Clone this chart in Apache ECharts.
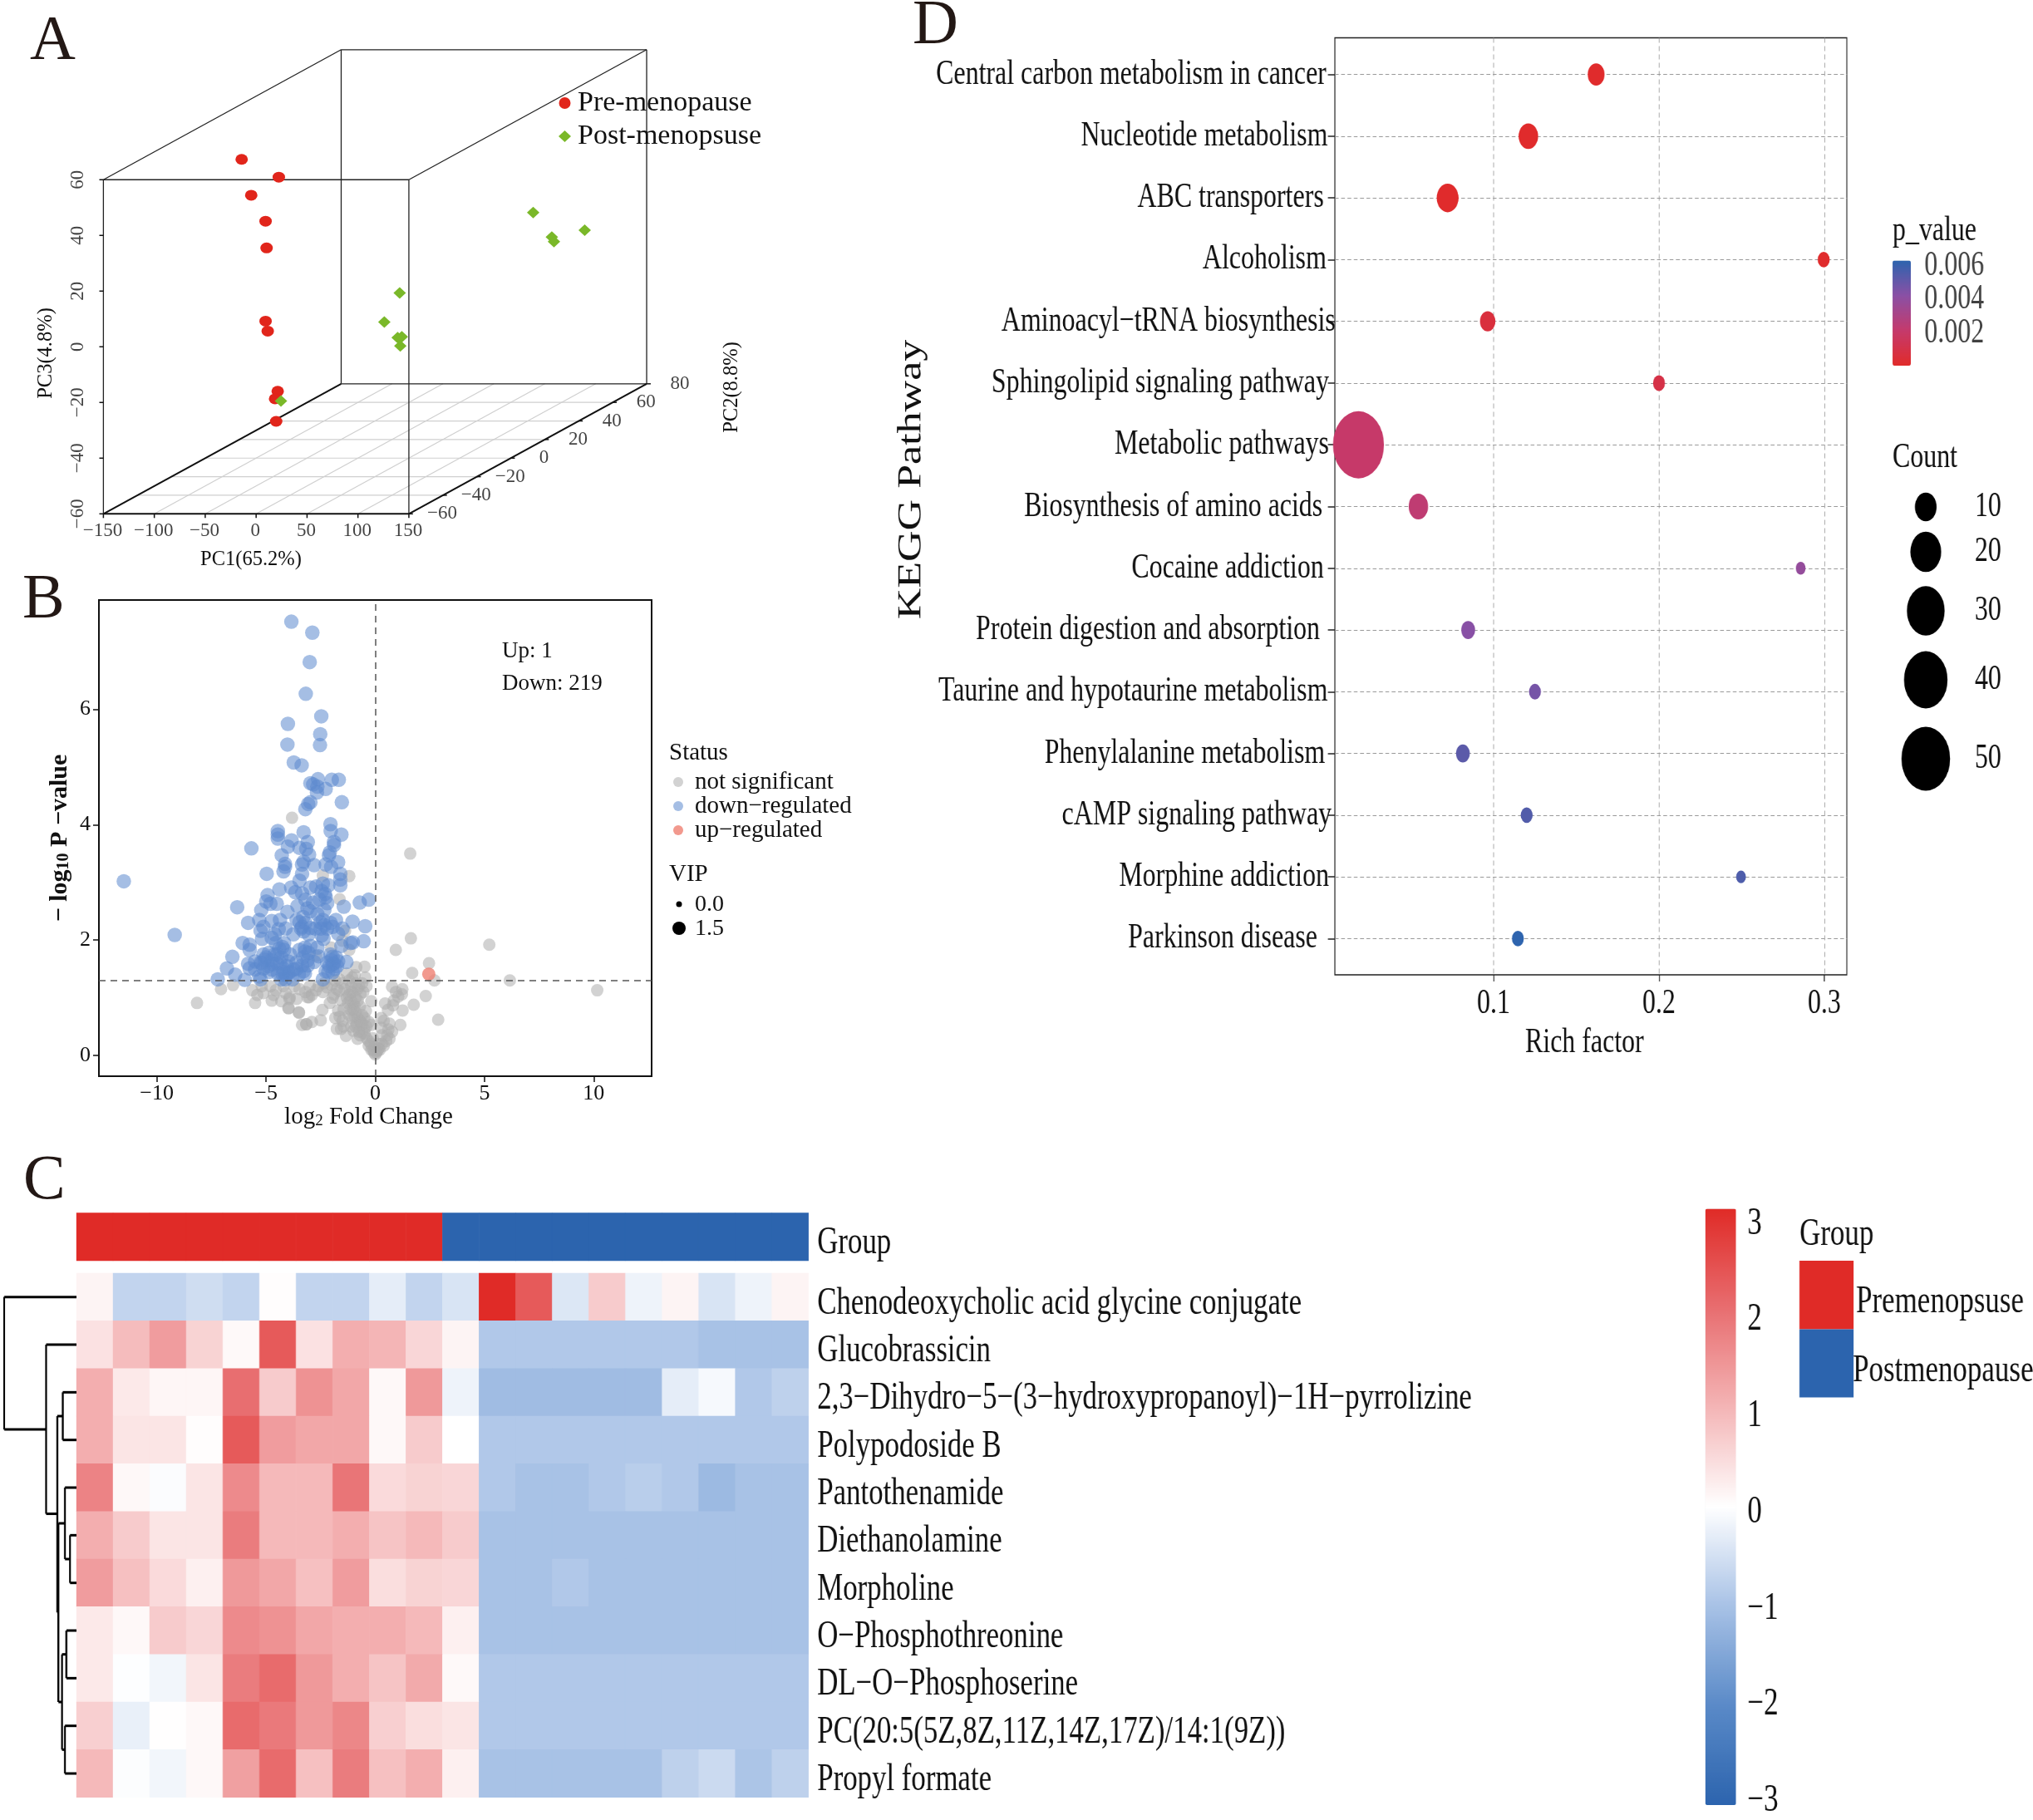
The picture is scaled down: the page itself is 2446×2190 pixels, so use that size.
<!DOCTYPE html>
<html><head><meta charset="utf-8">
<script src="https://cdn.jsdelivr.net/npm/echarts@6/dist/echarts.min.js"></script>
<style>
html,body{margin:0;padding:0;background:#fff;width:2446px;height:2190px;overflow:hidden}
#ab{position:absolute;left:0;top:0;width:2446px;height:2190px}
#cd{position:absolute;left:0;top:0;width:3218.42px;height:2190px;transform:scaleX(.76);transform-origin:0 0}
</style></head><body>
<div id="ab"></div><div id="cd"></div>
<script>
// ---------- Panel A: PCA, [PC1, PC2, PC3]
const preMenopause=[[-114.3,0,47.3],[-77.8,0,40.9],[-104.9,0,34.4],[-90.8,0,25.1],[-89.8,0,15.5],[-90.8,0,-10.8],[-88.7,0,-14.4],[-78.9,0,-36],[-81.5,0,-38.7],[-80.4,0,-46.8]];
const postMenopause=[[88.6,50,11.5],[106.9,50,2.7],[109,50,1.1],[139.2,50,5.2],[40.9,0,-0.7],[25.8,0,-11.1],[38.9,0,-16.7],[43,0,-16.4],[41.5,0,-19.7],[-75.7,0,-39.5]];
const pc1Ticks=[-150,-100,-50,0,50,100,150];
const pc2Ticks=[-60,-40,-20,0,20,40,60,80];
const pc3Ticks=[-60,-40,-20,0,20,40,60];

// ---------- Panel B: volcano, [log2FC, -log10P]
const downRegulated=[[-3.84,7.52],[-2.88,7.33],[-3,6.82],[-3.18,6.27],[-2.47,5.88],[-4,5.75],[-2.52,5.57],[-2.53,5.38],[-4.02,5.39],[-3.73,5.08],[-3.37,5.03],[-2.97,4.72],[-2.62,4.79],[-1.99,4.78],[-1.67,4.78],[-2.65,4.66],[-2.27,4.62],[-2.67,4.56],[-2.84,4.7],[-1.53,4.39],[-2.97,4.39],[-3.07,4.36],[-3.2,4.27],[-2.05,4.01],[-2.04,3.89],[-4.46,3.89],[-4.46,3.83],[-4.46,3.76],[-3.28,3.87],[-1.55,3.83],[-3.83,3.73],[-3.09,3.7],[-1.89,3.7],[-1.89,3.65],[-4,3.62],[-5.67,3.59],[-3.47,3.6],[-3.16,3.58],[-2.08,3.52],[-2.12,3.47],[-3.03,3.48],[-4.28,3.47],[-4.13,3.32],[-4.13,3.27],[-4.2,3.19],[-3.28,3.36],[-3.35,3.31],[-2.8,3.3],[-2.27,3.31],[-1.7,3.35],[-2.02,3.27],[-3.35,3.15],[-4.97,3.15],[-1.6,3.15],[-1.6,3.05],[-1.6,2.95],[-3.47,3.03],[-2.4,2.98],[-2.71,2.93],[-2.97,2.91],[-4.39,2.88],[-3.85,2.91],[-3.66,2.83],[-3.35,2.81],[-2.27,2.74],[-2.2,2.64],[-2.3,2.8],[-4.93,2.78],[-0.3,2.7],[-0.71,2.65],[-1.44,2.58],[-6.32,2.57],[-4.8,2.63],[-4.99,2.67],[-4.51,2.63],[-5.22,2.52],[-3.56,2.59],[-2.33,2.52],[-4.02,2.49],[-2.97,2.5],[-2.65,2.45],[-1.8,2.35],[-1.04,2.32],[-5.82,2.3],[-5.31,2.35],[-4.74,2.33],[-4.36,2.35],[-3.47,2.31],[-3.35,2.23],[-2.52,2.31],[-2.33,2.26],[-1.95,2.23],[-0.46,2.24],[-5.12,2.23],[-5.25,2.16],[-4.42,2.19],[-3.28,2.15],[-2.97,2.21],[-1.7,2.11],[-2.37,2.02],[-2.45,2.08],[-9.18,2.09],[-11.51,3.02],[-5.18,2.02],[-4.74,2.04],[-6.07,1.95],[-5.75,1.92],[-1.13,1.95],[-1.03,1.96],[-0.53,1.98],[-4.17,1.95],[-4.25,1.88],[-2.65,1.87],[-3.22,1.87],[-2.97,1.9],[-3.47,1.83],[-6.54,1.71],[-4.17,1.83],[-5.75,1.83],[-3.22,1.8],[-5.12,1.75],[-4.87,1.78],[-4.49,1.75],[-1.95,1.71],[-1.7,1.63],[-1.32,1.62],[-2.2,1.61],[-5.82,1.59],[-5.5,1.63],[-5.25,1.61],[-5.06,1.66],[-4.68,1.58],[-4.36,1.61],[-3.98,1.63],[-3.6,1.61],[-3.35,1.56],[-3.09,1.56],[-1.95,1.58],[-1.75,1.55],[-6.79,1.51],[-5.75,1.51],[-5.5,1.49],[-5.12,1.51],[-4.74,1.49],[-4.23,1.51],[-3.73,1.49],[-3.28,1.46],[-2.27,1.46],[-1.95,1.44],[-6.41,1.4],[-5.31,1.37],[-3.22,1.42],[-7.21,1.32],[-5.97,1.31],[-5.25,1.32],[-4.3,1.32],[-4.11,1.32],[-3.79,1.32],[-2.4,1.32],[-4.23,1.4],[-3.98,1.43],[-4.5,1.6],[-4.3,1.7],[-4.9,1.55],[-5,1.7],[-3.9,1.45],[-4.1,1.4],[-4.2,1.45],[-3.6,1.5],[-3.3,1.7],[-3.1,1.65],[-2,1.65],[-1.9,1.6],[-2.1,1.55],[-2.05,1.75],[-1.85,1.5],[-3.4,2.2],[-3.2,2.3],[-3.3,2.4],[-2.5,2.2],[-2.4,2.35],[-2.2,2.2],[-2.05,2.3],[-4.6,1.75],[-4.75,1.65],[-4.4,1.85],[-5.2,1.6],[-3.5,1.4],[-4.05,1.55],[-1.8,1.7],[-2.15,1.45],[-3.9,1.75],[-4.85,1.45],[-4.45,1.42],[-3.05,1.78],[-2.8,1.62],[-2.6,1.72],[-3.05,2.1],[-2.75,2.2],[-4.1,2.2],[-3.75,2.1],[-3.6,2.35],[-2.85,2.65],[-2.55,2.7],[-2.45,2.85],[-2.15,2.95],[-3.2,2.7],[-3.1,2.55],[-4.6,2.1],[-4.55,1.95],[-1.55,1.9],[-1.5,2.2]];
const notSignificant=[[-3.81,4.12],[1.6,3.5],[-1.19,3.11],[-2.4,3.12],[-1.63,2.71],[-1.38,2.16],[-1.51,1.99],[-1.19,1.83],[-2.02,1.87],[-2.71,1.73],[1.63,2.03],[0.94,1.83],[5.22,1.92],[2.46,1.6],[1.69,1.43],[2.71,1.3],[6.16,1.3],[10.16,1.13],[2.88,0.62],[2.31,1.03],[1.76,0.88],[-8.16,0.91],[-7.06,1.15],[-6.51,1.22],[-5.63,1.13],[-5.5,0.91],[-5.12,1.08],[-4.74,0.95],[-4.55,1.13],[-4.3,0.94],[-3.93,0.98],[-3.96,0.82],[-3.49,0.74],[-3.15,0.54],[-3.35,0.53],[-3.47,1.15],[-3.1,1.01],[-0.49,1.54],[-0.87,1.53],[-0.94,1.39],[-1.19,1.3],[-1.51,1.25],[-1.76,1.15],[-2.2,1.18],[-2.71,1.13],[-3.03,1.01],[-3.92,1.01],[-3.98,0.82],[-3.5,0.75],[-2.42,0.79],[-3.16,0.54],[-2.9,0.58],[-2.5,0.61],[-2.08,0.91],[-1.89,1.06],[-1.57,0.96],[-1.13,1.1],[-0.81,1.15],[-0.68,1.06],[-1.13,0.96],[-0.94,0.86],[-1.25,0.91],[-0.18,0.94],[-0.43,0.77],[-1.63,0.67],[-1.76,0.46],[-1.83,0.65],[-1.57,0.46],[-1.34,0.34],[-1.06,0.65],[-0.81,0.65],[-0.68,0.58],[-0.3,0.58],[-1,0.43],[-0.75,0.41],[-0.49,0.38],[-0.81,0.29],[-0.18,0.53],[-0.3,0.17],[-0.18,0.1],[0,0.02],[0.2,0.1],[0.39,0.17],[0.65,0.29],[0.77,0.41],[0.65,0.55],[0.39,0.6],[0.27,0.65],[0.27,0.48],[1.15,0.53],[0.58,0.79],[0.81,0.87],[1.25,0.78],[1.22,1.06],[0.77,1.19],[1.24,1.15],[-0.9,1],[-1,0.9],[-1,0.8],[-0.8,0.95],[-0.7,0.85],[-0.9,0.75],[-0.6,0.7],[-0.7,0.6],[-1.2,0.7],[-0.5,0.65],[-0.4,0.5],[-0.5,0.45],[-0.6,0.4],[-0.4,0.3],[-0.3,0.25],[-0.2,0.2],[-0.1,0.1],[-0.05,0.05],[0.05,0.05],[0.1,0.08],[0.15,0.2],[0.3,0.2],[0.5,0.25],[0.55,0.35],[0.6,0.45],[-0.7,0.35],[-0.9,0.5],[-1.1,0.5],[-1.5,0.6],[-1.45,0.8],[-1.3,1],[-1.4,1.15],[-1.1,1.2],[-0.9,1.25],[-0.6,1.25],[-0.4,1.2],[-2.4,1.1],[-2.6,1.2],[-3,1.2],[-3.2,1.1],[-3.7,1.2],[-4.2,1.2],[-4.8,1.2],[-5.2,1.2],[-2.9,1.05],[-2.35,1.25],[-2,1.22],[-1.95,1],[-1.65,1.12],[-1.2,1.05],[-1.05,1.1],[-0.75,1.2],[-0.55,1.1],[-0.95,0.68],[-1.15,0.8],[-0.85,0.55],[-0.6,0.55],[-0.45,1.35],[-1.65,1.32],[-1.85,1.3],[-1.3,1.42],[-1.05,1.35],[-5.4,1.05],[-4.1,1.08],[-3.6,0.98],[-4.65,1.05],[-1.7,0.78],[-1.45,0.5],[0.85,0.95],[1.05,1.02],[0.95,1.1],[0.45,0.9],[0.3,0.35],[0.15,0.12],[-0.02,0.15],[-0.12,0.3]];
const upRegulated=[[2.45,1.41]];
const volcanoX=[-10,-5,0,5,10];
const volcanoY=[0,2,4,6];

// ---------- Panel C: heatmap, rows top to bottom, 20 samples
const metabolites=["Chenodeoxycholic acid glycine conjugate","Glucobrassicin","2,3−Dihydro−5−(3−hydroxypropanoyl)−1H−pyrrolizine","Polypodoside B","Pantothenamide","Diethanolamine","Morpholine","O−Phosphothreonine","DL−O−Phosphoserine","PC(20:5(5Z,8Z,11Z,14Z,17Z)/14:1(9Z))","Propyl formate"];
const r1=[.15,-.7,-.7,-.55,-.7,.03,-.7,-.7,-.3,-.7,-.45,3,2.3,-.4,.7,-.2,.15,-.45,-.2,.15];
const r2=[.4,.9,1.35,.6,.08,2.3,.4,1.1,1,.55,.15,-.9,-.9,-.9,-.9,-.9,-.9,-1,-1,-1];
const r3=[1.1,.3,.12,.12,2,.7,1.5,1.2,.1,1.4,-.2,-1.1,-1.1,-1.1,-1.1,-1.1,-.3,-.1,-.9,-.75];
const r4=[1.1,.35,.35,.03,2.3,1.35,1.2,1.2,.1,.7,0,-.9,-.9,-.9,-.9,-.9,-.9,-.9,-.9,-.9];
const r5=[1.7,.1,-.05,.35,1.6,.95,.95,1.9,.5,.6,.55,-.9,-1,-1,-.9,-.8,-.9,-1.15,-1,-1];
const r6=[1.1,.7,.35,.35,1.8,.95,.95,1.1,.8,.95,.7,-1,-1,-1,-1,-1,-1,-1,-1,-1];
const r7=[1.35,.85,.5,.2,1.4,1.2,.85,1.35,.45,.6,.55,-1,-1,-.9,-1,-1,-1,-1,-1,-1];
const r8=[.3,.1,.7,.55,1.6,1.5,1.2,1.1,1.1,.95,.2,-1,-1,-1,-1,-1,-1,-1,-1,-1];
const r9=[.3,-.02,-.15,.35,1.8,2.05,1.4,1.1,.8,1.15,.08,-.9,-.9,-.9,-.9,-.9,-.9,-.9,-.9,-.9];
const r10=[.65,-.25,.01,.1,2.05,1.85,1.4,1.65,.65,.45,.35,-.9,-.9,-.9,-.9,-.9,-.9,-.9,-.9,-.9];
const r11=[.95,-.03,-.15,.1,1.3,2.05,.85,1.8,.85,1.1,.2,-1,-1,-1,-1,-1,-.75,-.6,-.95,-.75];
const heatRows=[r1,r2,r3,r4,r5,r6,r7,r8,r9,r10,r11];
const groupOfSample=[0,0,0,0,0,0,0,0,0,0,1,1,1,1,1,1,1,1,1,1];
const groupNames=["Premenopsuse","Postmenopause"];
const scaleTicks=[-3,-2,-1,0,1,2,3];
// dendrogram segments: [height1,row1,height2,row2]
const dendrogram=[[1,.5,1,3.28],[1,.5,0,.5],[1,3.28,.42,3.28],[.42,1.5,.42,5.05],[.42,1.5,0,1.5],[.42,5.05,.265,5.05],[.265,3,.265,7.12],[.265,3,.19,3],[.265,7.12,.25,7.12],[.19,2.5,.19,3.5],[.19,2.5,0,2.5],[.19,3.5,0,3.5],[.25,5.25,.25,9],[.25,5.25,.16,5.25],[.25,9,.2,9],[.16,4.5,.16,6],[.16,4.5,0,4.5],[.16,6,.09,6],[.09,5.5,.09,6.5],[.09,5.5,0,5.5],[.09,6.5,0,6.5],[.2,8,.2,10],[.2,8,.14,8],[.2,10,.16,10],[.14,7.5,.14,8.5],[.14,7.5,0,7.5],[.14,8.5,0,8.5],[.16,9.5,.16,10.5],[.16,9.5,0,9.5],[.16,10.5,0,10.5]];

// ---------- Panel D: KEGG bubbles
const pathways=["Central carbon metabolism in cancer","Nucleotide metabolism","ABC transporters","Alcoholism","Aminoacyl−tRNA biosynthesis","Sphingolipid signaling pathway","Metabolic pathways","Biosynthesis of amino acids","Cocaine addiction","Protein digestion and absorption","Taurine and hypotaurine metabolism","Phenylalanine metabolism","cAMP signaling pathway","Morphine addiction","Parkinson disease"];
const richFactor=[.162,.121,.0722,.2996,.0964,.2,.0183,.0545,.2857,.0846,.125,.0814,.12,.2496,.1147];
const pValue=[.00005,.00005,.00005,.0001,.0006,.0009,.002,.0023,.0038,.0042,.0046,.0052,.0054,.0055,.0062];
const pathwayCount=[6,8,10,3,5,3,55,8,2,4,3,4,3,2,3];
const richTicks=[.1,.2,.3];
const pTicks=[.002,.004,.006];
const countLegend=[10,20,30,40,50];
// how far each pathway label stops short of the panel edge (reference is uneven)
const labelInset=[6.5,5.5,8.5,6.5,-.5,4.5,4.5,9.5,8.5,11.5,5.5,7.5,2.5,4.5,13.5];

// ---------- helpers
const SERIF='"Liberation Serif"';
const minus=v=>String(v).replace('-','−');
const proj=(a,b,c)=>[a+(b+60)*1.668,c+(b+60)*.3336];
const seg=(p,q)=>[p[0],p[1],q[0],q[1]];
function segSeries(name,data,color,width,xi,yi){return {name,type:'custom',coordinateSystem:'cartesian2d',xAxisIndex:xi,yAxisIndex:yi,silent:true,clip:false,data,encode:{x:[0,2],y:[1,3]},
 renderItem(p,api){const a=api.coord([api.value(0),api.value(1)]),b=api.coord([api.value(2),api.value(3)]);return {type:'line',shape:{x1:a[0],y1:a[1],x2:b[0],y2:b[1]},style:{stroke:color,lineWidth:width,fill:null}}}}}
function labelSeries(name,data,offset,rotate){return {name,type:'scatter',xAxisIndex:0,yAxisIndex:0,symbolSize:1,itemStyle:{color:'rgba(0,0,0,0)'},silent:true,clip:false,data,
 label:{show:true,position:'inside',offset,rotate,fontFamily:SERIF,fontSize:23,color:'#111',formatter:p=>p.value[2]}}}

// ---------- AB chart (no horizontal squeeze)
const floor=[];
pc2Ticks.slice(1,-1).forEach(v=>floor.push(seg(proj(-150,v,-60),proj(150,v,-60))));
pc1Ticks.slice(1).forEach(v=>floor.push(seg(proj(v,-60,-60),proj(v,80,-60))));
const C=(a,b,c)=>proj(a,b,c);
const boxThin=[seg(C(-150,-60,60),C(150,-60,60)),seg(C(-150,-60,-60),C(-150,-60,60)),seg(C(150,-60,-60),C(150,-60,60)),
 seg(C(-150,80,-60),C(-150,80,60)),seg(C(-150,80,60),C(150,80,60)),seg(C(150,80,-60),C(150,80,60)),seg(C(-150,80,-60),C(150,80,-60)),
 seg(C(-150,-60,60),C(-150,80,60)),seg(C(150,-60,60),C(150,80,60))];
const boxThick=[seg(C(-150,-60,-60),C(150,-60,-60)),seg(C(-150,-60,-60),C(-150,80,-60)),seg(C(150,-60,-60),C(150,80,-60))];
const tickMarks=[];
pc1Ticks.forEach(v=>tickMarks.push(seg(C(v,-60,-60),C(v,-60,-61.5))));
pc3Ticks.forEach(v=>tickMarks.push(seg(C(-150,-60,v),C(-154,-60,v))));
pc2Ticks.forEach(v=>tickMarks.push(seg(C(150,v,-60),C(154,v,-60))));

const txt=(text,x,y,size,extra)=>Object.assign({type:'text',x,y,silent:true,style:Object.assign({text,font:size+'px '+SERIF,fill:'#111',verticalAlign:'middle'},extra||{})});
const letter=(t,x,y)=>({type:'text',x,y,silent:true,style:{text:t,font:'76px '+SERIF,fill:'#231815',verticalAlign:'bottom'}});

const ab=echarts.init(document.getElementById('ab'));
ab.setOption({animation:false,textStyle:{fontFamily:SERIF},
 legend:[
  {data:[{name:'Pre-menopause',icon:'circle',itemStyle:{color:'#e1251b'}},{name:'Post-menopsuse',icon:'diamond',itemStyle:{color:'#7ab829'}}],orient:'vertical',left:672,top:107,itemWidth:15,itemHeight:14,itemGap:6,selectedMode:false,padding:0,textStyle:{fontFamily:SERIF,fontSize:34,color:'#111',padding:[0,0,0,3]}},
  {data:['not significant','down−regulated','up−regulated'],orient:'vertical',left:810,top:926.5,itemWidth:12,itemHeight:12,itemGap:0,selectedMode:false,padding:0,textStyle:{fontFamily:SERIF,fontSize:29,color:'#111',padding:[0,0,0,9]}}
 ],
 grid:[
  {left:124.4,top:59.8,width:653.6,height:558.5},
  {left:119,top:722,width:665,height:573,show:true,borderColor:'#111',borderWidth:2,z:3}
 ],
 xAxis:[
  {type:'value',gridIndex:0,show:false,min:-150,max:383.5},
  {type:'value',gridIndex:1,min:-12.65,max:12.65,splitLine:{show:false},axisLine:{show:true,onZero:false,lineStyle:{color:'#111',width:2}},axisTick:{show:true,length:7,lineStyle:{color:'#111',width:1.5},customValues:volcanoX},axisLabel:{customValues:volcanoX,fontFamily:SERIF,fontSize:26,color:'#111',margin:8,formatter:minus},
   name:'{a|log}{s|2}{a| Fold Change}',nameLocation:'middle',nameGap:34,nameTextStyle:{padding:[0,16,0,0],rich:{a:{fontFamily:SERIF,fontSize:29,color:'#111'},s:{fontFamily:SERIF,fontSize:19,color:'#111',verticalAlign:'bottom'}}}}
 ],
 yAxis:[
  {type:'value',gridIndex:0,show:false,min:-60,max:106.7},
  {type:'value',gridIndex:1,min:-.36,max:7.896,splitLine:{show:false},axisLine:{show:true,onZero:false,lineStyle:{color:'#111',width:2}},axisTick:{show:true,length:7,lineStyle:{color:'#111',width:1.5},customValues:volcanoY},axisLabel:{customValues:volcanoY,fontFamily:SERIF,fontSize:26,color:'#111',margin:10},
   name:'{a|− log}{s|10}{a| P −value}',nameLocation:'middle',nameRotate:90,nameGap:32,nameTextStyle:{rich:{a:{fontFamily:SERIF,fontSize:30,color:'#111',fontWeight:'bold'},s:{fontFamily:SERIF,fontSize:20,color:'#111',fontWeight:'bold',verticalAlign:'bottom'}}}}
 ],
 graphic:{elements:[
  letter('A',36,89),letter('B',27,761),letter('C',28,1460),letter('D',1098,70),
  txt('PC1(65.2%)',241,674,24.5),
  {type:'text',x:56,y:425,rotation:Math.PI/2,silent:true,style:{text:'PC3(4.8%)',font:'24.5px '+SERIF,fill:'#111',align:'center',verticalAlign:'middle'}},
  {type:'text',x:881,y:466,rotation:Math.PI/2,silent:true,style:{text:'PC2(8.8%)',font:'24.5px '+SERIF,fill:'#111',align:'center',verticalAlign:'middle'}},
  txt('Up: 1',604,783.5,27),txt('Down: 219',604,822.5,27),
  txt('Status',805,906.5,29),txt('VIP',805,1052.5,29),
  {type:'circle',shape:{cx:817,cy:1088,r:3.5},style:{fill:'#000'},silent:true},
  {type:'circle',shape:{cx:817,cy:1117,r:8},style:{fill:'#000'},silent:true},
  txt('0.0',836,1088.5,28),txt('1.5',836,1117.5,28)
 ]},
 series:[
  segSeries('floor',floor,'#cfcfcf',1.2,0,0),
  segSeries('box',boxThin,'#222',1.3,0,0),
  segSeries('boxBase',boxThick,'#111',2,0,0),
  segSeries('ticks',tickMarks,'#111',1.5,0,0),
  {name:'Pre-menopause',type:'scatter',xAxisIndex:0,yAxisIndex:0,symbol:'circle',symbolSize:[15,13],itemStyle:{color:'#e1251b',opacity:1},data:preMenopause.map(d=>proj(...d)),clip:false,z:5},
  {name:'Post-menopsuse',type:'scatter',xAxisIndex:0,yAxisIndex:0,symbol:'diamond',symbolSize:[15,14],itemStyle:{color:'#7ab829',opacity:1},data:postMenopause.map(d=>proj(...d)),clip:false,z:6},
  labelSeries('pc1Labels',pc1Ticks.map(v=>[...C(v,-60,-60),minus(v)]),[-1,21]),
  labelSeries('pc2Labels',pc2Ticks.map(v=>[...C(150,v,-60),minus(v)]),[40,0]),
  labelSeries('pc3Labels',pc3Ticks.map(v=>[...C(-150,-60,v),minus(v)]),[0,-30],90),
  {name:'not significant',type:'scatter',xAxisIndex:1,yAxisIndex:1,symbolSize:15,itemStyle:{color:'#adadad',opacity:.55},data:notSignificant,
   markLine:{silent:true,symbol:'none',animation:false,label:{show:false},lineStyle:{color:'#555',type:[8,6],width:1.5},data:[{yAxis:1.301},{xAxis:0}]}},
  {name:'down−regulated',type:'scatter',xAxisIndex:1,yAxisIndex:1,symbolSize:17.5,itemStyle:{color:'#5b88ce',opacity:.55},data:downRegulated},
  {name:'up−regulated',type:'scatter',xAxisIndex:1,yAxisIndex:1,symbolSize:16,itemStyle:{color:'#ef7f72',opacity:.8},data:upRegulated}
 ]
});

// ---------- CD chart (drawn wide, then squeezed with CSS)
const S=.76, sx=v=>v/S;
const cd=echarts.init(document.getElementById('cd'));
const heatData=[];heatRows.forEach((row,y)=>row.forEach((v,x)=>heatData.push([x,y,v])));
const sampleIdx=r1.map((_,i)=>i);
const groupColors=['#e02b27','#2c64ae'];
const countSize=c=>10.9*Math.sqrt(c);
const countY=[610,664,735,818,913];
const dashGrey={color:'#999',type:[6,4],width:1.2};
const pathwayItems=pathways.map((p,i)=>({value:p,textStyle:{padding:[0,labelInset[i]*2.05+4,0,0]}}));
const rowLabel={fontFamily:SERIF,fontSize:45.8,color:'#111',padding:[16,0,0,0]};
cd.setOption({animation:false,textStyle:{fontFamily:SERIF},
 grid:[
  {left:sx(1606),width:sx(616),top:89.6,height:1039.8},
  {left:sx(1606),width:sx(616),top:45.6,height:1127.4,show:true,borderColor:'#222',borderWidth:1.5},
  {left:sx(92),width:sx(880.6),top:1459.4,height:57.6},
  {left:sx(92),width:sx(880.6),top:1532,height:630.7},
  {left:sx(5),width:sx(87),top:1532,height:630.7},
  {left:sx(2051.7),width:sx(37),top:1472.5,height:706.5},
  {left:sx(2277),width:sx(22),top:314.5,height:126.6}
 ],
 xAxis:[
  {type:'value',gridIndex:0,show:false,min:.004,max:.3136},
  {type:'value',gridIndex:1,min:.004,max:.3136,axisLine:{show:false},axisTick:{show:true,length:8,lineStyle:{color:'#222',width:1.5},customValues:richTicks},splitLine:{show:true,lineStyle:dashGrey},
   axisLabel:{customValues:richTicks,fontFamily:SERIF,fontSize:42,color:'#111',margin:14,formatter:v=>v.toFixed(1)},name:'Rich factor',nameLocation:'middle',nameGap:60,nameTextStyle:{fontFamily:SERIF,fontSize:42,color:'#111',padding:[0,20,0,0]}},
  {type:'category',gridIndex:2,show:false,data:sampleIdx},
  {type:'category',gridIndex:3,show:false,data:sampleIdx},
  {type:'value',gridIndex:4,show:false,min:0,max:1,inverse:true},
  {type:'value',gridIndex:5,show:false,min:0,max:1},
  {type:'value',gridIndex:6,show:false,min:0,max:1}
 ],
 yAxis:[
  {type:'category',gridIndex:0,data:pathwayItems,inverse:true,boundaryGap:false,axisLine:{show:false},axisTick:{show:true,length:11,lineStyle:{color:'#222',width:1.5}},splitLine:{show:true,lineStyle:dashGrey},
   axisLabel:{interval:0,fontFamily:SERIF,fontSize:42,color:'#111',margin:-4}},
  {type:'value',gridIndex:1,show:false,min:0,max:1},
  {type:'category',gridIndex:2,data:['Group'],position:'right',axisLine:{show:false},axisTick:{show:false},axisLabel:{margin:14,formatter:v=>'{a|'+v+'}',rich:{a:rowLabel}}},
  {type:'category',gridIndex:3,data:metabolites,inverse:true,position:'right',axisLine:{show:false},axisTick:{show:false},axisLabel:{interval:0,margin:14,formatter:v=>'{a|'+v+'}',rich:{a:rowLabel}}},
  {type:'value',gridIndex:4,show:false,min:0,max:11,inverse:true},
  {type:'value',gridIndex:5,min:-3,max:3,position:'right',z:10,splitLine:{show:false},axisLine:{show:false},axisTick:{show:false},axisLabel:{customValues:scaleTicks,showMinLabel:true,showMaxLabel:true,fontFamily:SERIF,fontSize:46,color:'#111',margin:18,formatter:minus}},
  {type:'value',gridIndex:6,min:0,max:.00625,position:'right',z:10,splitLine:{show:false},axisLine:{show:false},axisTick:{show:true,inside:true,length:7,lineStyle:{color:'#fff',width:1.5},customValues:pTicks},axisLabel:{show:false}}
 ],
 visualMap:[
  {type:'continuous',seriesIndex:3,dimension:2,min:-3,max:3,left:sx(2051.7),top:1454.4,itemWidth:sx(37),itemHeight:717.6,padding:0,text:null,calculable:false,showLabel:false,hoverLink:false,realtime:false,
   inRange:{color:['#2c64ae','#5a8ac8','#a8c2e6','#ffffff','#f4b5b6','#e86e70','#e02b27']},textStyle:{fontSize:0,color:'rgba(0,0,0,0)'}},
  {type:'continuous',seriesIndex:0,dimension:3,min:0,max:.00625,left:sx(2277),top:313.4,itemWidth:sx(22),itemHeight:126.6,padding:0,text:null,calculable:false,showLabel:false,hoverLink:false,realtime:false,
   inRange:{color:['#e12b2a','#c53a6c','#8a50a5','#2c64ae']},textStyle:{fontSize:0,color:'rgba(0,0,0,0)'}}
 ],
 graphic:{elements:[
  {type:'text',x:sx(1097),y:577,rotation:Math.PI/2,silent:true,style:{text:'KEGG Pathway',font:'52px '+SERIF,fill:'#111',align:'center',verticalAlign:'middle'}},
  {type:'text',x:sx(2277),y:278,silent:true,style:{text:'p_value',font:'42px '+SERIF,fill:'#111',verticalAlign:'middle'}},
  {type:'text',x:sx(2277),y:551,silent:true,style:{text:'Count',font:'42px '+SERIF,fill:'#111',verticalAlign:'middle'}},
  ...countLegend.map((c,i)=>({type:'circle',silent:true,shape:{cx:sx(2317),cy:countY[i],r:countSize(c)/2},style:{fill:'#000'}})),
  ...countLegend.map((c,i)=>({type:'text',x:sx(2376),y:countY[i],silent:true,style:{text:String(c),font:'42px '+SERIF,fill:'#111',verticalAlign:'middle'}})),
  {type:'text',x:sx(2165),y:1486,silent:true,style:{text:'Group',font:'46px '+SERIF,fill:'#111',verticalAlign:'middle'}},
  {type:'rect',silent:true,shape:{x:sx(2165),y:1517,width:sx(65),height:82.5},style:{fill:groupColors[0]}},
  {type:'rect',silent:true,shape:{x:sx(2165),y:1599.5,width:sx(65),height:82},style:{fill:groupColors[1]}},
  {type:'text',x:sx(2233),y:1567,silent:true,style:{text:groupNames[0],font:'46px '+SERIF,fill:'#111',verticalAlign:'middle'}},
  {type:'text',x:sx(2229),y:1650,silent:true,style:{text:groupNames[1],font:'46px '+SERIF,fill:'#111',verticalAlign:'middle'}}
 ]},
 series:[
  {name:'KEGG',type:'scatter',xAxisIndex:0,yAxisIndex:0,clip:false,itemStyle:{opacity:1},data:pathways.map((p,i)=>[richFactor[i],p,pathwayCount[i],pValue[i]]),encode:{x:0,y:1},symbolSize:d=>countSize(d[2]),z:5},
  {name:'panelD',type:'scatter',xAxisIndex:1,yAxisIndex:1,data:[]},
  {name:'Group',type:'heatmap',xAxisIndex:2,yAxisIndex:2,data:groupOfSample.map((g,i)=>({value:[i,0,g],itemStyle:{color:groupColors[g]}}))},
  {name:'Heatmap',type:'heatmap',xAxisIndex:3,yAxisIndex:3,data:heatData,progressive:0},
  segSeries('Dendrogram',dendrogram,'#000',3,4,4),
  {name:'colourScale',type:'scatter',xAxisIndex:5,yAxisIndex:5,data:[]},
  {name:'pScale',type:'scatter',xAxisIndex:6,yAxisIndex:6,clip:false,symbolSize:1,itemStyle:{color:'rgba(0,0,0,0)'},data:pTicks.map(p=>[1,p]),
   label:{show:true,position:'right',distance:21,fontFamily:SERIF,fontSize:42,color:'#111',formatter:q=>q.value[1].toFixed(3)}}
 ]
});
</script>
</body></html>
